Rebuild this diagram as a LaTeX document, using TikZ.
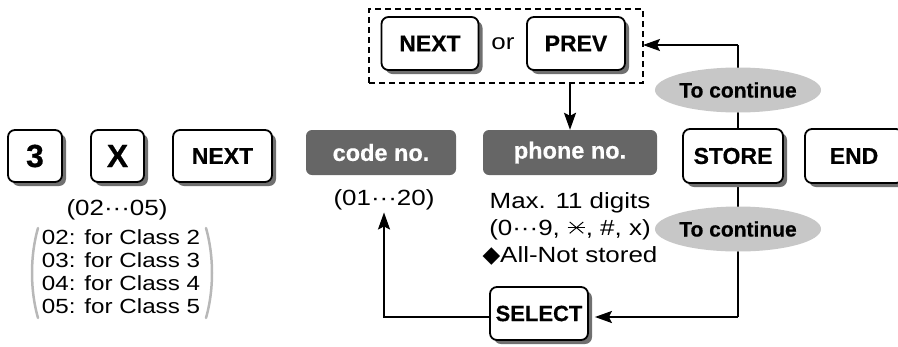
\documentclass[tikz,border=0pt]{standalone}
\usepackage{fontspec}
\usepackage{graphicx}
\setmainfont[BoldFeatures={FakeBold=0.5}]{Liberation Sans}
\newfontfamily\regf[FakeStretch=1.18]{Liberation Sans}
\newfontfamily\symf{DejaVu Sans}
\usetikzlibrary{shapes.geometric,shadows,arrows.meta}
\newcommand{\sxbar}[1]{\rotatebox[origin=c]{#1}{\rule[-0.022em]{0.8em}{0.044em}}}
\newcommand{\sextsym}{\raisebox{0.36em}{\makebox[0.85em]{\ooalign{\hss\sxbar{0}\hss\cr\hss\sxbar{40}\hss\cr\hss\sxbar{-40}\hss}}}}
\begin{document}
\begin{tikzpicture}[x=1pt,y=-1pt,
  keybox/.style={draw, line width=1.8pt, rounded corners=7pt, fill=white,
    font=\bfseries\fontsize{23}{23}\selectfont, inner sep=0pt,
    drop shadow={shadow xshift=4pt, shadow yshift=-4pt, fill=black!56, opacity=1}},
  darklab/.style={fill=black!60, rounded corners=6pt, text=white, inner sep=0pt,
    font=\bfseries\fontsize{23.5}{23.5}\selectfont, minimum height=45pt},
  reg/.style={font=\regf\fontsize{22}{27}\selectfont, inner sep=2pt},
  cont/.style={ellipse, fill=black!22, minimum width=143pt, minimum height=45pt, inner sep=0pt,
    font=\bfseries\fontsize{21}{21}\selectfont},
  conn/.style={line width=2pt},
  arr/.style={line width=2pt, -{Stealth[length=17pt,width=12pt,inset=3pt]}},
  paren/.style={line width=2.5pt, draw=black!28, line cap=round}]
\clip (0,0) rectangle (898,346);
% right loop coordinates
\coordinate (ctop) at (738,45);
\coordinate (cbot) at (738,317);
\draw[conn] (ctop) -- (cbot);
% left keys
\node[keybox, minimum width=54pt, minimum height=52pt, font=\bfseries\fontsize{32}{32}\selectfont] (k3) at (35,156) {3};
\node[keybox, minimum width=53pt, minimum height=52pt, font=\bfseries\fontsize{32}{32}\selectfont] (kx) at (117.5,156) {X};
\node[keybox, minimum width=99pt, minimum height=52pt] (knext) at (222.5,156) {NEXT};
\node[reg] (range) at (117,210) {(02···05)};
\node[reg, font=\regf\fontsize{20.5}{23}\selectfont, align=left] (cls) at (121,271.5)
  {02: for Class 2\\03: for Class 3\\04: for Class 4\\05: for Class 5};
\draw[paren] (38,228) .. controls (30,256) and (30,290) .. (38,318);
\draw[paren] (206,228) .. controls (214,256) and (214,290) .. (206,318);
% dashed group
\node[draw, dashed, dash pattern=on 6pt off 4pt, line width=2pt, minimum width=274pt, minimum height=74pt] (grp) at (506,46) {};
\node[keybox, minimum width=97pt, minimum height=53pt] (tnext) at (430,43.5) {NEXT};
\node[reg] (or) at (503,44) {or};
\node[keybox, minimum width=98pt, minimum height=53pt] (tprev) at (576,43.5) {PREV};
% dark labels
\node[darklab, minimum width=150pt] (code) at (381,152.5) {code no.};
\node[darklab, minimum width=174pt] (phone) at (570,152.5) {phone no.};
\node[reg] (codeval) at (384,200) {(01···20)};
\node[reg, align=center] (pval) at (570,229)
  {Max. 11 digits\\(0···9, \sextsym, \#, x)\\{\symf\fontsize{23}{23}\selectfont ◆}All-Not stored};
% right keys
\node[keybox, minimum width=100pt, minimum height=54pt] (store) at (733,156) {STORE};
\node[keybox, minimum width=98pt, minimum height=54pt] (endk) at (854,156) {END};
\node[keybox, minimum width=98pt, minimum height=53pt, font=\bfseries\fontsize{22}{22}\selectfont] (sel) at (539,313.5) {SELECT};
\node[cont] (tc1) at (738,90) {To continue};
\node[cont] (tc2) at (738,229) {To continue};
% connectors
\draw[arr, shorten >=-1pt] (ctop) -- (ctop -| grp.east);
\draw[arr] (grp.south -| phone.north) -- (phone.north);
\draw[arr, shorten >=6pt] (cbot) -- (cbot -| sel.east);
\draw[arr] (sel.west |- cbot) -| (codeval.south);
\end{tikzpicture}
\end{document}
